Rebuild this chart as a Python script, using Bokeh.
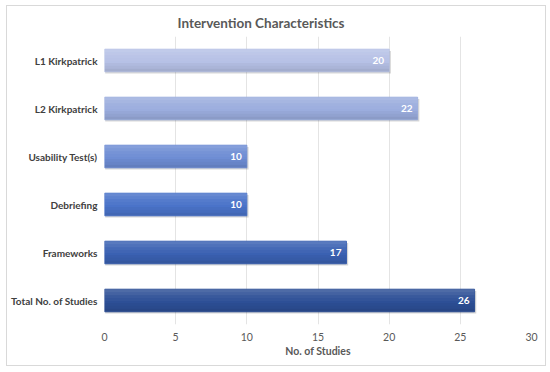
from bokeh.plotting import figure
from bokeh.models import ColumnDataSource, FactorRange, Range1d, FixedTicker, Title
from bokeh.transform import dodge
from bokeh.core.properties import value
from bokeh.embed import file_html
from bokeh.resources import INLINE

categories = ["L1 Kirkpatrick", "L2 Kirkpatrick", "Usability Test(s)", "Debriefing",
              "Frameworks", "Total No. of Studies"]
studies = [20, 22, 10, 10, 17, 26]
colors = ["#b6c1e6", "#9badde", "#6e8dd4", "#4a73c9", "#3a61b2", "#2d4f96"]
x_ticks = [0, 5, 10, 15, 20, 25, 30]

FONT = "Lato"
BAR_H = 0.47

src = ColumnDataSource(dict(
    cat=categories, val=studies, col=colors,
    lbl=[str(v) for v in studies],
    shadow_right=[v + 0.12 for v in studies],
))

p = figure(width=540, height=361, output_backend="svg", toolbar_location=None,
           y_range=FactorRange(*reversed(categories)), x_range=Range1d(0, 30),
           min_border_left=97, min_border_right=16, min_border_top=30, min_border_bottom=43)
p.styles = {"border": "1px solid #d9d9d9", "margin": "5px 0px 0px 6px"}

t = Title(text="Intervention Characteristics", align="left", offset=73,
          text_font=FONT, text_font_size="13.5px", text_font_style="bold",
          text_color="#595959", standoff=11)
p.add_layout(t, "above")

# shadow
p.hbar(y=dodge("cat", -0.035, range=p.y_range), left=0.05, right="shadow_right", height=BAR_H,
       source=src, fill_color="#000000", fill_alpha=0.16, line_color=None)
p.hbar(y="cat", left=0, right="val", height=BAR_H, source=src,
       fill_color="col", line_color="col")
# soft gradient: lighter top, darker bottom
for off, a in [(0.20, 0.16), (0.14, 0.11), (0.08, 0.06), (0.02, 0.03)]:
    p.hbar(y=dodge("cat", off, range=p.y_range), left=0, right="val", height=0.06, source=src,
           fill_color="#ffffff", fill_alpha=a, line_color=None)
for off, a in [(-0.20, 0.10), (-0.14, 0.06), (-0.08, 0.03)]:
    p.hbar(y=dodge("cat", off, range=p.y_range), left=0, right="val", height=0.06, source=src,
           fill_color="#000000", fill_alpha=a, line_color=None)

p.text(x="val", y="cat", text="lbl", source=src, x_offset=-5, text_align="right",
       text_baseline="middle", text_color="white", text_font=value(FONT),
       text_font_size="10px", text_font_style="bold")

p.xaxis.ticker = FixedTicker(ticks=x_ticks)
p.xaxis.axis_label = "No. of Studies"
p.xaxis.axis_label_text_font = FONT
p.xaxis.axis_label_text_font_size = "10.5px"
p.xaxis.axis_label_text_font_style = "bold"
p.xaxis.axis_label_text_color = "#595959"
p.xaxis.axis_label_standoff = 1
p.xaxis.major_label_text_font = FONT
p.xaxis.major_label_text_font_size = "10.5px"
p.xaxis.major_label_text_color = "#595959"
p.xaxis.major_label_standoff = 8
p.xaxis.axis_line_color = None
p.xaxis.major_tick_line_color = None
p.xaxis.minor_tick_line_color = None
p.xaxis.major_tick_out = 0
p.xaxis.minor_tick_out = 0

p.yaxis.major_label_text_font = FONT
p.yaxis.major_label_text_font_size = "10px"
p.yaxis.major_label_text_font_style = "bold"
p.yaxis.major_label_text_color = "#404040"
p.yaxis.major_label_standoff = 7
p.yaxis.axis_line_color = None
p.yaxis.major_tick_line_color = None
p.yaxis.minor_tick_line_color = None
p.yaxis.major_tick_out = 0
p.yaxis.minor_tick_out = 0

p.ygrid.grid_line_color = None
p.xgrid.grid_line_color = "#e4e4e4"
p.xgrid.ticker = FixedTicker(ticks=x_ticks)
p.outline_line_color = None
p.y_range.range_padding = 0

open("out.html", "w").write(file_html(p, INLINE))
